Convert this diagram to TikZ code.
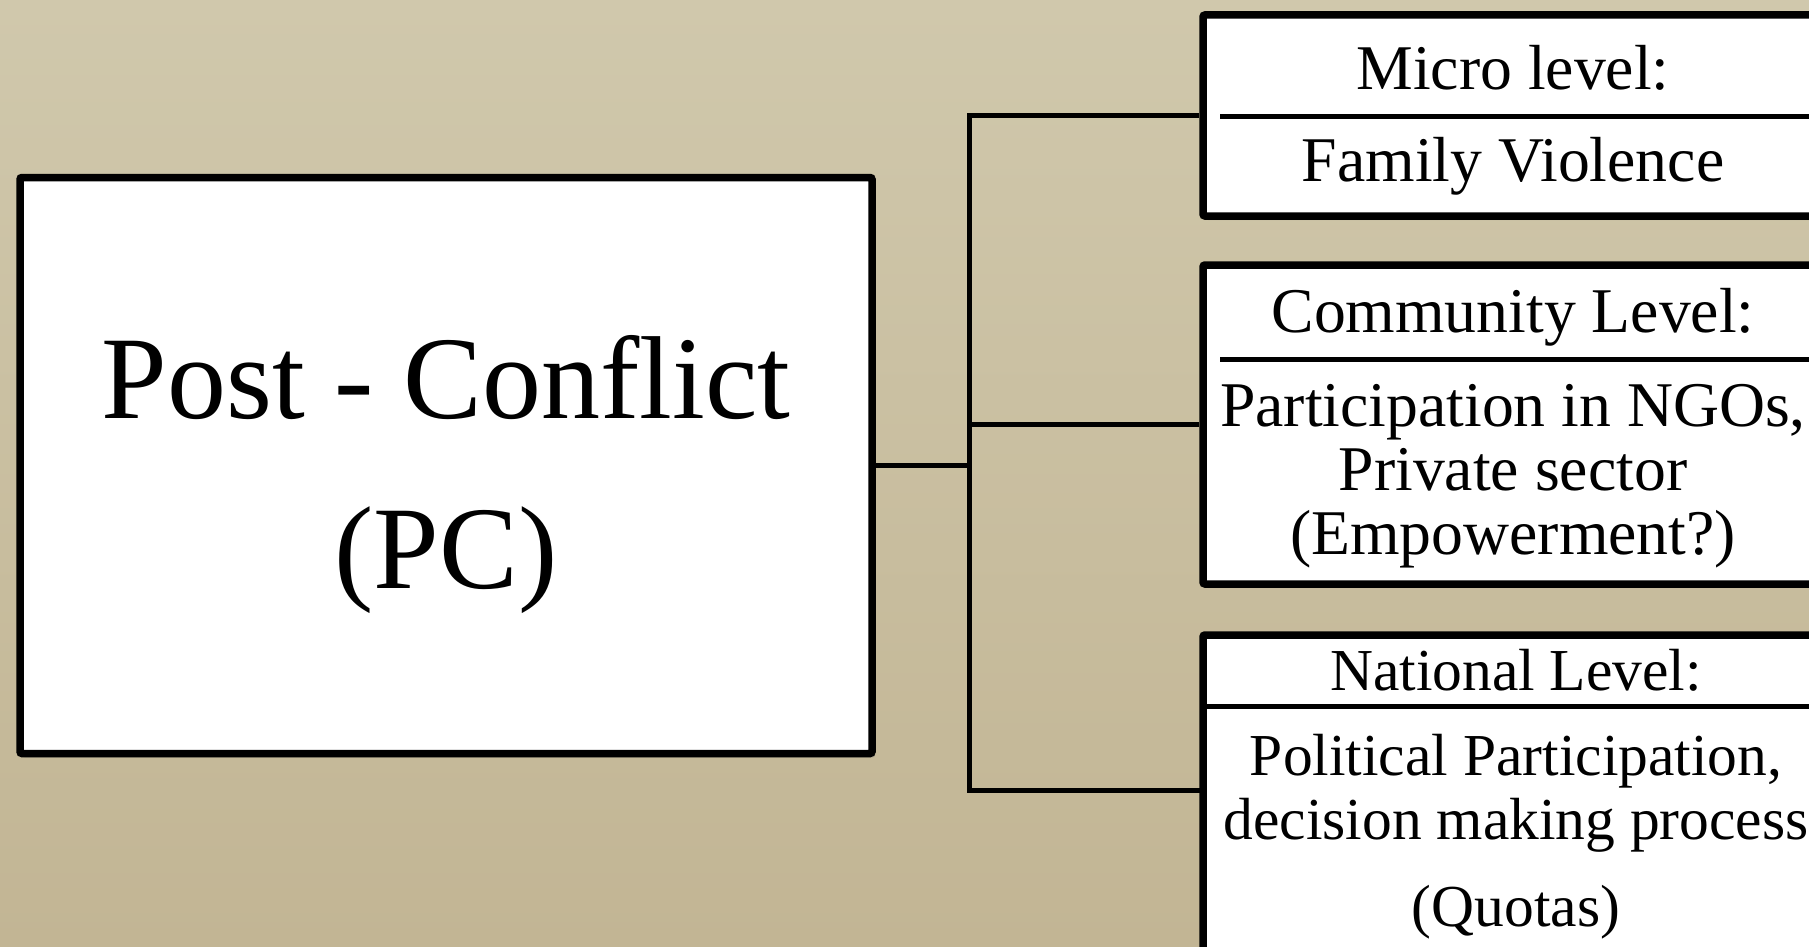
\documentclass[tikz,border=0pt]{standalone}
\usepackage{fontspec}
\setmainfont{Liberation Serif}
\usetikzlibrary{shadows}
\definecolor{papertop}{RGB}{208,200,172}
\definecolor{paperbot}{RGB}{194,181,148}
\tikzset{
  box/.style={draw=black, fill=white, line width=7.5pt, rounded corners=2pt, inner sep=0pt,
    drop shadow={shadow xshift=3pt, shadow yshift=-4pt, opacity=0.25}},
  conn/.style={draw=black, line width=5pt},
  sep/.style={draw=black, line width=5pt},
  bigtxt/.style={anchor=base, inner sep=0pt, font=\fontsize{118}{140}\selectfont},
  midtxt/.style={anchor=base, inner sep=0pt, font=\fontsize{63.7}{64}\selectfont},
  smalltxt/.style={anchor=base, inner sep=0pt, font=\fontsize{59.5}{64}\selectfont},
}
\begin{document}
\begin{tikzpicture}[x=1pt,y=-1pt]
\useasboundingbox (0,0) rectangle (1809,947);
\clip (0,0) rectangle (1809,947);
\fill[top color=papertop, bottom color=paperbot] (0,0) rectangle (1809,947);

% left box
\node[box, minimum width=852pt, minimum height=576pt] (pc) at (446,465.5) {};
\node[bigtxt] (pc1) at (446,418) {Post - Conflict};
\node[bigtxt] (pc2) at (446,588) {(PC)};

% right boxes
\node[box, minimum width=622pt, minimum height=201pt] (micro) at (1514,115.5) {};
\node[box, minimum width=622pt, minimum height=319pt] (comm) at (1514,424.5) {};
\node[box, minimum width=622pt, minimum height=400pt] (nat) at (1514,835) {};

% separators
\coordinate (s1) at (1220,116.5);
\coordinate (s2) at (1220,359);
\coordinate (s3) at (1203,706);
\draw[sep] (s1) -- (s1 -| micro.east);
\draw[sep] (s2) -- (s2 -| comm.east);
\draw[sep] (s3) -- (s3 -| nat.east);

% texts
\node[midtxt] (m1) at (1513,90) {Micro level:};
\node[midtxt] (m2) at (1513,181) {Family Violence};
\node[midtxt] (c1) at (1513,332) {Community Level:};
\node[midtxt] (c2) at (1513,426) {Participation in NGOs,};
\node[midtxt] (c3) at (1513,490) {Private sector};
\node[midtxt] (c4) at (1513,554) {(Empowerment?)};
\node[smalltxt] (n1) at (1516,690) {National Level:};
\node[smalltxt] (n2) at (1516,775) {Political Participation,};
\node[smalltxt] (n3) at (1516,839) {decision making process};
\node[smalltxt] (n4) at (1516,926) {(Quotas)};

% connectors
\coordinate (tx) at (969,0);
\coordinate (natin) at (1203,790);
\draw[conn] (pc.east) -- (pc.east -| tx);
\draw[conn] (micro.west) -| (tx |- natin) -- (natin);
\draw[conn] (comm.west) -- (comm.west -| tx);
\end{tikzpicture}
\end{document}
